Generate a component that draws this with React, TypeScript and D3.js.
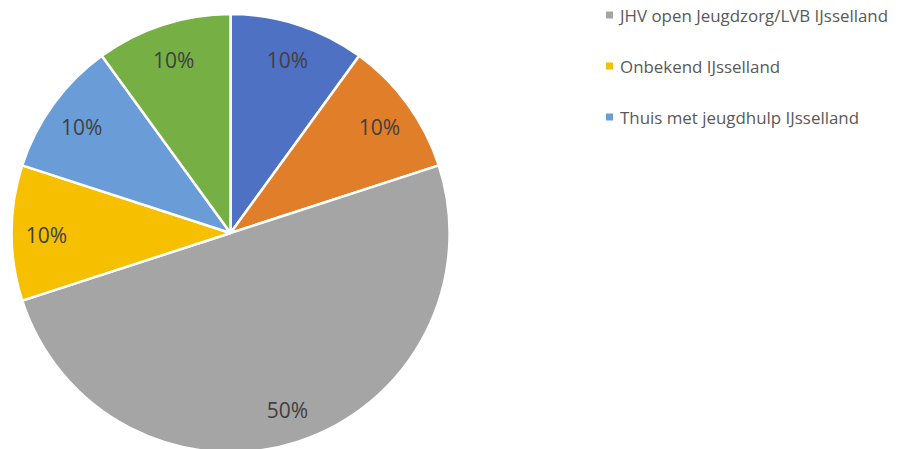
import React from "react";
import * as d3 from "d3";

const sliceNames = [
  "Categorie 1",
  "Categorie 2",
  "JHV open Jeugdzorg/LVB IJsselland",
  "Onbekend IJsselland",
  "Thuis met jeugdhulp IJsselland",
  "Categorie 6",
];
const sliceValues = [10, 10, 50, 10, 10, 10];
const sliceColors = ["#4E71C4", "#E07E29", "#A5A5A5", "#F6C000", "#6A9DD8", "#76AF43"];
const legendIndices = [2, 3, 4];

const W = 904;
const H = 449;
const cx = 230.5;
const cy = 233;
const R = 219;

export default function App() {
  const total = d3.sum(sliceValues);
  const pie = d3.pie<number>().sort(null).value((d) => d);
  const arcs = pie(sliceValues);
  const arcGen = d3.arc<d3.PieArcDatum<number>>().innerRadius(0).outerRadius(R);
  const labelArc = d3.arc<d3.PieArcDatum<number>>().innerRadius(R * 0.84).outerRadius(R * 0.84);
  const fmt = d3.format(".0%");
  return (
    <svg width={W} height={H} style={{ position: "absolute", left: 0, top: 0, background: "#fff" }}>
      <g transform={`translate(${cx},${cy})`}>
        {arcs.map((a, i) => (
          <path key={i} d={arcGen(a) || ""} fill={sliceColors[i]} stroke="#fff" strokeWidth={2.5} strokeLinejoin="round" />
        ))}
        {arcs.map((a, i) => {
          const [x, y] = labelArc.centroid(a);
          return (
            <text
              key={"l" + i}
              x={x}
              y={y + 2}
              textAnchor="middle"
              dominantBaseline="central"
              fontFamily="'Open Sans', sans-serif"
              fontSize={21}
              fill="#404040"
            >
              {fmt(sliceValues[i] / total)}
            </text>
          );
        })}
      </g>
      <g>
        {legendIndices.map((idx, k) => {
          const y = 15 + k * 51;
          return (
            <g key={"lg" + k}>
              <rect x={606} y={y - 3.5} width={7} height={7} fill={sliceColors[idx]} />
              <text
                x={620}
                y={y}
                dominantBaseline="central"
                fontFamily="'Open Sans', sans-serif"
                fontSize={16.9}
                fill="#595959"
              >
                {sliceNames[idx]}
              </text>
            </g>
          );
        })}
      </g>
    </svg>
  );
}
